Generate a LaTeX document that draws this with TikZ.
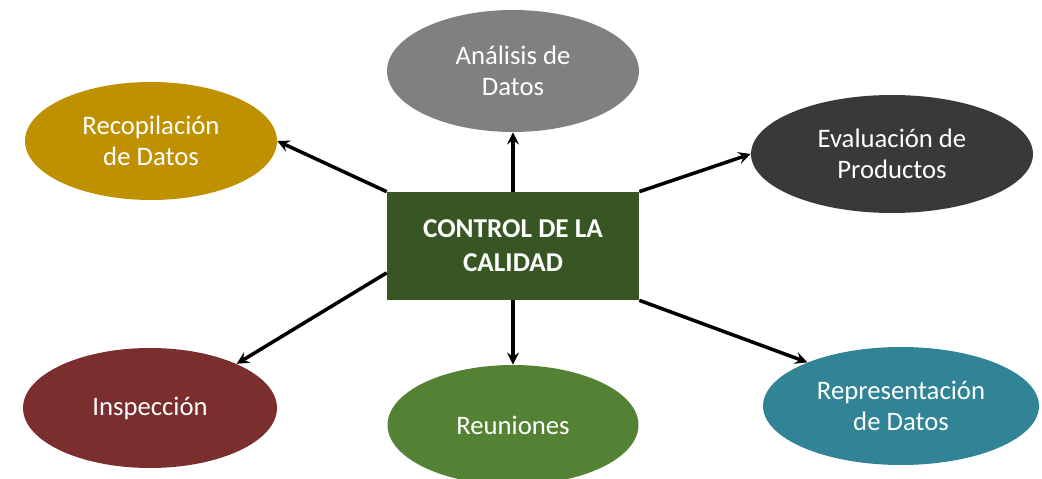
\documentclass[tikz,border=0pt]{standalone}
\usepackage{fontspec}
\setmainfont{Carlito}
\usepackage{tikz}
\usetikzlibrary{arrows,shapes,positioning}
\usepackage{xcolor}
\definecolor{qcgold}{RGB}{191,144,0}
\definecolor{qcgray}{RGB}{128,128,128}
\definecolor{qcdark}{RGB}{59,56,56}
\definecolor{qcgreen}{RGB}{55,86,35}
\definecolor{qcmaroon}{RGB}{122,46,46}
\definecolor{qcleaf}{RGB}{84,130,53}
\definecolor{qcteal}{RGB}{49,132,150}
\tikzstyle{arrow} = [line width=2pt,->,>=stealth,color=black]
\tikzstyle{task} = [ellipse, inner sep=0pt, text=white, align=center, font=\fontsize{15.2}{18}\selectfont]

\begin{document}
\begin{tikzpicture}[x=0.02cm, y=-0.02cm]
\useasboundingbox (0,0) rectangle (1042,479);
% Central box
\node[rectangle, fill=qcgreen, minimum width=5.04cm, minimum height=2.16cm, text=white, align=center,
  font=\fontsize{15.5}{19.4}\selectfont\bfseries] (ctrl) at (513,246) {CONTROL DE LA\\CALIDAD};

% Activities
\node[task, fill=qcgold, minimum width=5.04cm, minimum height=2.36cm] (reco) at (151,141) {Recopilación\\de Datos};
\node[task, fill=qcgray, minimum width=5.04cm, minimum height=2.44cm] (anal) at (513,71) {Análisis de\\Datos};
\node[task, fill=qcdark, minimum width=5.64cm, minimum height=2.36cm] (eval) at (892,154) {Evaluación de\\Productos};
\node[task, fill=qcmaroon, minimum width=5.08cm, minimum height=2.40cm] (insp) at (150,408) {Inspección};
\node[task, fill=qcleaf, minimum width=5.02cm, minimum height=2.40cm] (reun) at (513,425) {Reuniones};
\node[task, fill=qcteal, minimum width=5.52cm, minimum height=2.36cm] (repr) at (901,406) {Representación\\de Datos};

% Arrows
\draw[arrow] (ctrl.north west) -- (reco.east);
\draw[arrow] (ctrl.north) -- (anal.south);
\draw[arrow] (ctrl.north east) -- (eval.west);
\draw[arrow] (ctrl.192) -- (insp.27);
\draw[arrow] (ctrl.south) -- (reun.north);
\draw[arrow] (ctrl.south east) -- (repr.155);
\end{tikzpicture}
\end{document}
